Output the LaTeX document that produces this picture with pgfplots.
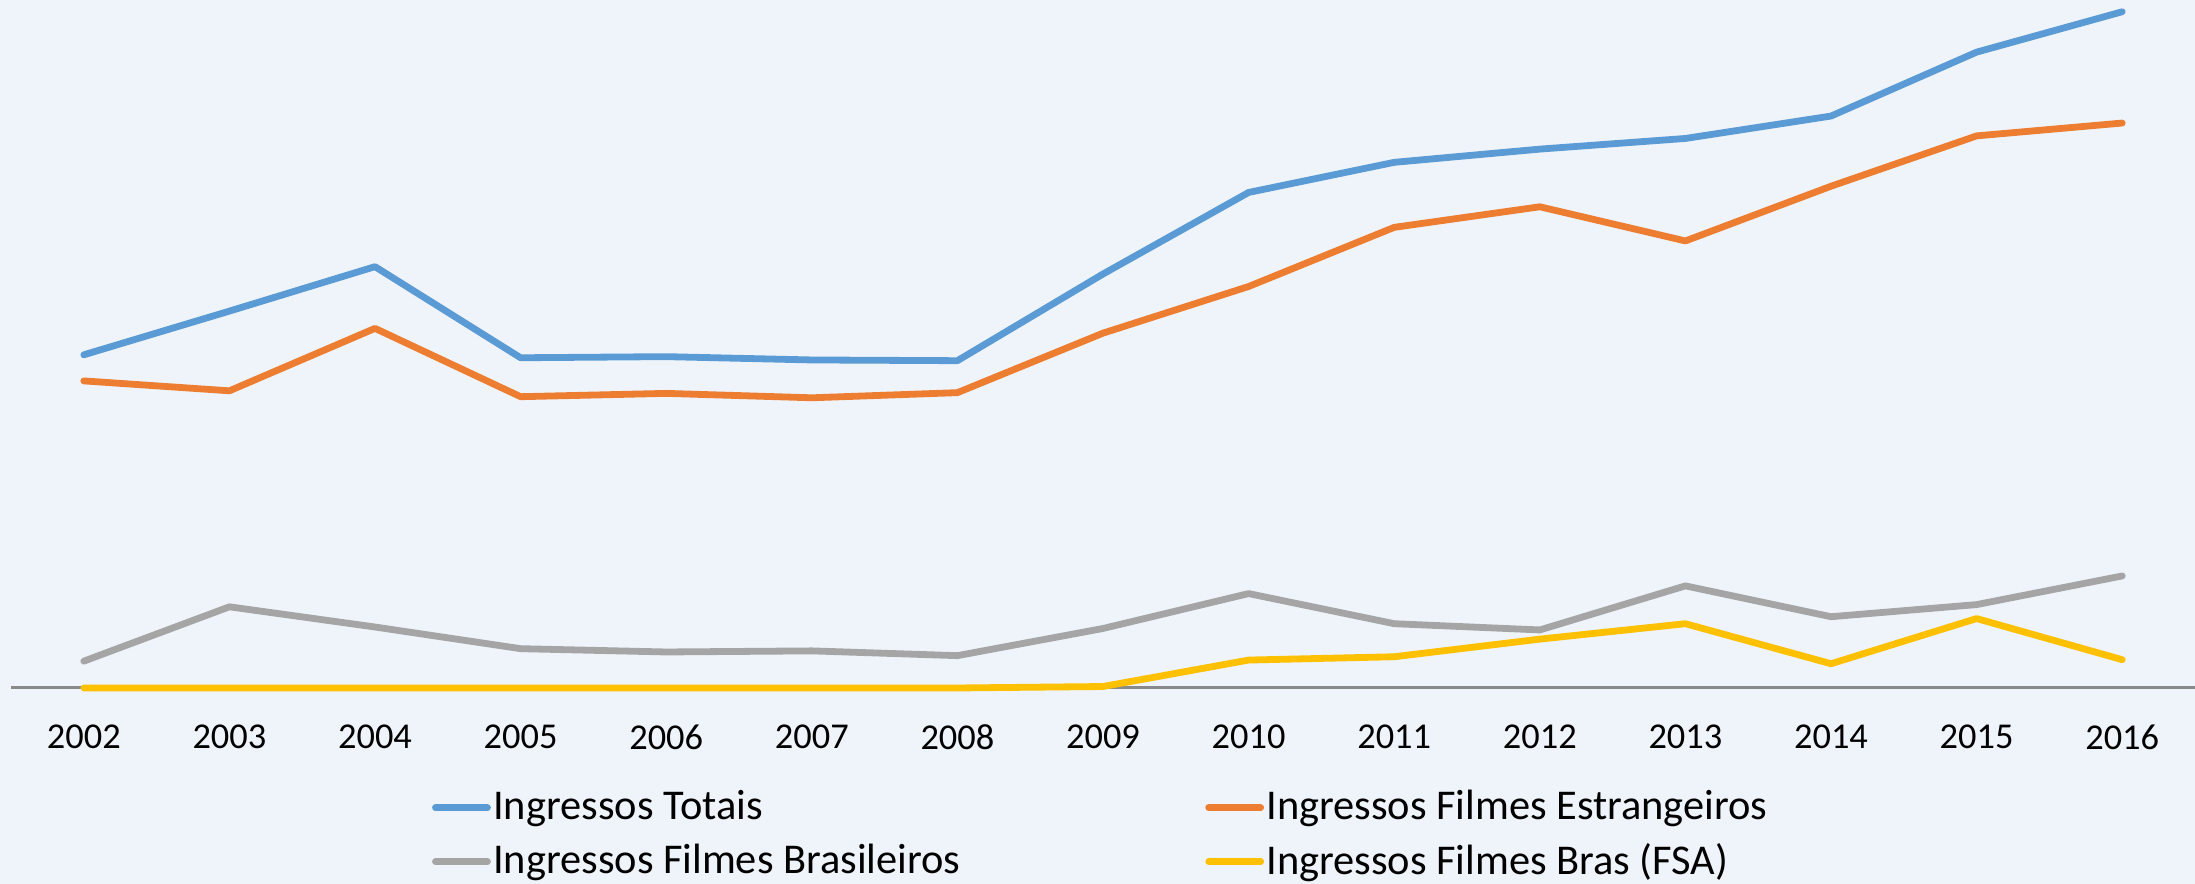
\documentclass[border=0pt]{standalone}
\usepackage{pgfplots}
\pgfplotsset{compat=1.18}
\usepackage{pgfplotstable}
\usepackage{fontspec}
\setmainfont{Carlito}
\definecolor{bg}{HTML}{EFF4FB}
\definecolor{cblue}{HTML}{5B9BD5}
\definecolor{corange}{HTML}{ED7D31}
\definecolor{cgray}{HTML}{A5A5A5}
\definecolor{cyellow}{HTML}{FFC000}
\definecolor{axisgray}{HTML}{898989}

\pgfplotstableread{
year total foreign brazil fsa
2002 90.7 83.6 7.3 0
2003 102.6 80.9 22.1 0
2004 114.7 97.9 16.6 0
2005 89.9 79.3 10.7 0
2006 90.2 80.2 9.8 0
2007 89.3 79.0 10.1 0
2008 89.1 80.4 8.8 0
2009 112.7 96.6 16.2 0.4
2010 134.9 109.3 25.7 7.6
2011 143.1 125.4 17.5 8.5
2012 146.7 131.0 15.8 13.3
2013 149.6 121.7 27.8 17.5
2014 155.7 136.6 19.4 6.6
2015 173.1 150.3 22.7 18.9
2016 184.1 153.8 30.5 7.7
}\data

\begin{document}
\begin{tikzpicture}[x=1pt,y=1pt]
\useasboundingbox (0,0) rectangle (548.75,221);
\fill[bg] (0,0) rectangle (548.75,221);
\begin{axis}[
  at={(2.75pt,49pt)}, anchor=south west,
  scale only axis, width=546pt, height=172pt,
  xmin=2001.5, xmax=2016.5, ymin=0, ymax=187.3,
  axis x line=bottom, axis y line=none,
  x axis line style={draw=none,-},
  xtick={2002,2003,2004,2005,2006,2007,2008,2009,2010,2011,2012,2013,2014,2015,2016},
  xticklabels={2002,2003,2004,2005,2006,2007,2008,2009,2010,2011,2012,2013,2014,2015,2016},
  major tick length=0pt,
  xticklabel style={font=\fontsize{9.1}{11}\selectfont, yshift=-5.6pt, text=black},
  clip=false,
  legend columns=2,
  legend cell align=left,
  legend image code/.code={\draw[#1, line width=1.7pt, line cap=round] (0pt,0pt) -- (13pt,0pt);},
  legend style={at={(axis description cs:0.1928,-0.1485)}, anchor=north west,
    draw=none, fill=none, inner sep=0pt, outer sep=0pt,
    font=\fontsize{10.6}{12.8}\selectfont, row sep=4.4pt,
    column sep=0.6pt,
    /tikz/every even column/.append style={column sep=61.2pt},
    nodes={inner sep=0pt}},
]
\draw[color=axisgray, line width=0.75pt] (axis cs:2001.5,0) -- (axis cs:2016.5,0);
\addplot[color=cblue, line width=1.7pt, line cap=round, line join=round] table[x=year,y=total]{\data};
\addlegendentry{Ingressos Totais}
\addplot[color=corange, line width=1.7pt, line cap=round, line join=round] table[x=year,y=foreign]{\data};
\addlegendentry{Ingressos Filmes Estrangeiros}
\addplot[color=cgray, line width=1.7pt, line cap=round, line join=round] table[x=year,y=brazil]{\data};
\addlegendentry{Ingressos Filmes Brasileiros}
\addplot[color=cyellow, line width=1.7pt, line cap=round, line join=round] table[x=year,y=fsa]{\data};
\addlegendentry{Ingressos Filmes Bras (FSA)}
\end{axis}
\end{tikzpicture}
\end{document}
